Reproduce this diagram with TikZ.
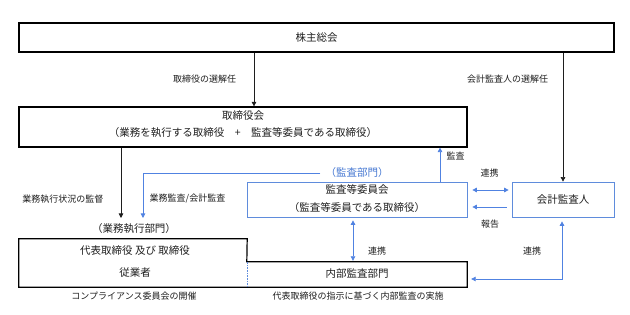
\documentclass[tikz,border=0pt]{standalone}
\usepackage{fontspec}
\setmainfont{Noto Sans CJK JP}
\usetikzlibrary{arrows.meta}
\definecolor{boxblue}{RGB}{95,140,220}
\definecolor{lineblue}{RGB}{80,130,225}
\definecolor{txtblue}{RGB}{70,120,210}
\definecolor{ink}{RGB}{30,30,30}
\tikzset{
  bbox/.style={draw=black, line width=1.2pt, inner sep=0pt, text=ink},
  bluebox/.style={draw=boxblue, line width=0.7pt, inner sep=0pt, text=ink},
  lbl/.style={font=\fontsize{9}{10}\selectfont, inner sep=0pt, text=ink},
  txt/.style={font=\fontsize{10.5}{12}\selectfont, inner sep=0pt, text=ink},
  tip/.tip={Triangle[length=4.5pt,width=4.5pt]},
  karr/.style={-tip, line width=0.6pt, draw=ink},
  barr/.style={-tip, line width=0.8pt, draw=lineblue},
  bdarr/.style={tip-tip, line width=0.8pt, draw=lineblue}
}
\begin{document}
\begin{tikzpicture}[x=1pt,y=-1pt]
\useasboundingbox (0,0) rectangle (630,315);

% boxes
\node[bbox, txt, minimum width=595pt, minimum height=29pt] (sh) at (316.5,37.5) {株主総会};
\node[bbox, minimum width=448pt, minimum height=40pt] (tb) at (243,127) {};
\node[txt] (tb1) at (243,116) {取締役会};
\node[txt] (tb2) at (243,133) {（業務を執行する取締役\quad+\quad 監査等委員である取締役）};

\node[bluebox, minimum width=220pt, minimum height=35pt] (kk) at (357,199.5) {};
\node[txt] (kk1) at (357,190) {監査等委員会};
\node[txt] (kk2) at (357,208) {（監査等委員である取締役）};

\node[bluebox, txt, minimum width=102pt, minimum height=35pt] (kai) at (563,199.5) {会計監査人};

% bottom compound box
\node[minimum width=228pt, minimum height=48pt, inner sep=0pt] (ex) at (133,263) {};
\node[minimum width=220pt, minimum height=25pt, inner sep=0pt] (naibu) at (357,274.5) {};
\draw[line width=1.2pt, line join=miter] (ex.north west) -- (ex.north east) -- (naibu.north west) -- (naibu.north east) -- (naibu.south east) -- (ex.south west) -- cycle;
\draw[boxblue, line width=0.6pt, densely dotted] (naibu.north west) -- (naibu.south west);
\node[txt] (ex1) at (135,251) {代表取締役 及び 取締役};
\node[txt] (ex2) at (135,273) {従業者};
\node[txt] (nb1) at (357,274) {内部監査部門};
\node[txt] (bumon) at (134,229) {（業務執行部門）};

% labels
\node[lbl] (l1) at (204.5,79) {取締役の選解任};
\node[lbl] (l2) at (507.5,79) {会計監査人の選解任};
\node[lbl] (l3) at (63,199) {業務執行状況の監督};
\node[lbl] (l4) at (187.5,199) {業務監査/会計監査};
\node[lbl] (l5) at (455.5,156) {監査};
\node[lbl] (l6) at (489.5,173) {連携};
\node[lbl] (l7) at (490,224) {報告};
\node[lbl] (l8) at (377,251) {連携};
\node[lbl] (l9) at (532,251) {連携};
\node[lbl] (l10) at (134,296) {コンプライアンス委員会の開催};
\node[lbl] (l11) at (358,296) {代表取締役の指示に基づく内部監査の実施};
\node[txt, text=txtblue] (kb) at (357,173) {（監査部門）};

% connectors
\coordinate (t1) at (121,218);
\coordinate (t2) at (143,218);
\draw[karr] (sh.south -| 254,0) -- (tb.north -| 254,0);
\draw[karr] (sh.south -| kai.north) -- (kai.north);
\draw[karr] (tb.south -| t1) -- (t1);
\draw[barr] ([xshift=-5pt]kb.west) -| (t2);
\draw[barr] (kk.north -| 440,0) -- (tb.south -| 440,0);
\draw[bdarr] ([xshift=5pt,yshift=9.5pt]kk.east) -- ([xshift=-3pt,yshift=9.5pt]kai.west);
\draw[barr] ([xshift=-5pt,yshift=-7.5pt]kai.west) -- ([xshift=5pt,yshift=-7.5pt]kk.east);
\draw[bdarr] ([xshift=-4pt,yshift=-3pt]kk.south) -- ([xshift=-4pt,yshift=1pt]naibu.north);
\draw[bdarr] ([xshift=-1pt,yshift=-4pt]kai.south) |- ([xshift=4pt,yshift=-4.5pt]naibu.east);
\end{tikzpicture}
\end{document}
